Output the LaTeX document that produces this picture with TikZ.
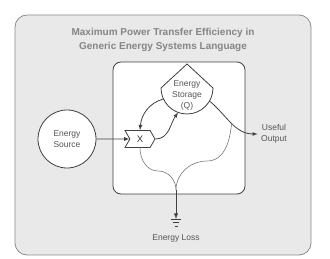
\documentclass[tikz,border=0pt]{standalone}
\usepackage{fontspec}
\setmainfont{Liberation Sans}
\usetikzlibrary{shapes.symbols}
\definecolor{boxgray}{HTML}{E9E9E9}
\definecolor{linegray}{HTML}{404040}
\definecolor{txtgray}{HTML}{555555}
\definecolor{titlegray}{HTML}{858585}
\begin{document}
\begin{tikzpicture}[x=1pt,y=-1pt,
    lbl/.style={text=txtgray, font=\fontsize{8.5}{11}\selectfont, align=center},
    sym/.style={draw=linegray, line width=0.8pt, fill=white},
    flow/.style={draw=linegray, line width=0.8pt, -latex},
    heat/.style={draw=linegray!80, line width=0.5pt}]
  \useasboundingbox (0,0) rectangle (330,259);
  \draw[draw=gray!90, fill=boxgray, line width=0.8pt, rounded corners=12pt] (15,15) rectangle (311,255);
  \node[text=titlegray, font=\bfseries\fontsize{10}{14}\selectfont, align=center] (title) at (163,40)
    {Maximum Power Transfer Efficiency in\\Generic Energy Systems Language};
  \draw[draw=linegray, fill=white, line width=0.8pt, rounded corners=8pt] (113,62) rectangle (245,194);
  % source and storage
  \node[sym, circle, minimum size=58pt, inner sep=0, lbl] (src) at (67,139) {Energy\\Source};
  \node[circle, minimum size=52pt, inner sep=0, outer sep=0] (store) at (187,88) {};
  \draw[sym] (store.west) -- (187,64) -- (store.east) arc (0:180:26);
  \node[lbl] (storetxt) at (187,95) {Energy\\Storage\\(Q)};
  \node[sym, signal, signal to=east, signal from=west, signal pointer angle=120,
    minimum width=30pt, minimum height=17pt, inner sep=0, text=black!80,
    font=\fontsize{9.5}{11}\selectfont] (mult) at (140,139) {X};
  \node[lbl] (useful) at (274,134) {Useful\\Output};
  \node[lbl] (loss) at (176,238) {Energy Loss};
  % flows
  \draw[flow] (src) -- (mult);
  \draw[flow] (store.205) to[out=195, in=85] (mult.north);
  \draw[flow] (mult.east) to[out=0, in=235] (store.250);
  \draw[flow] (store.330) to[out=-40, in=180] coordinate[pos=0.5] (branch) (useful.west);
  % heat sinks
  \coordinate (sink) at (176,190);
  \coordinate (gnd) at (176,219);
  \draw[heat] (mult.south) to[out=-90, in=180] (158,171) to[out=0, in=90] (sink);
  \draw[heat] (branch) to[out=-95, in=0] (207,161) to[out=180, in=90] (sink);
  \draw[flow, line width=0.9pt] (sink) -- (gnd);
  \draw[linegray, line width=0.6pt] (gnd) ++(-5,0) -- ++(10,0)
    (gnd) ++(-3.2,3.5) -- ++(6.4,0) (gnd) ++(-1.5,7) -- ++(3,0);
\end{tikzpicture}
\end{document}
